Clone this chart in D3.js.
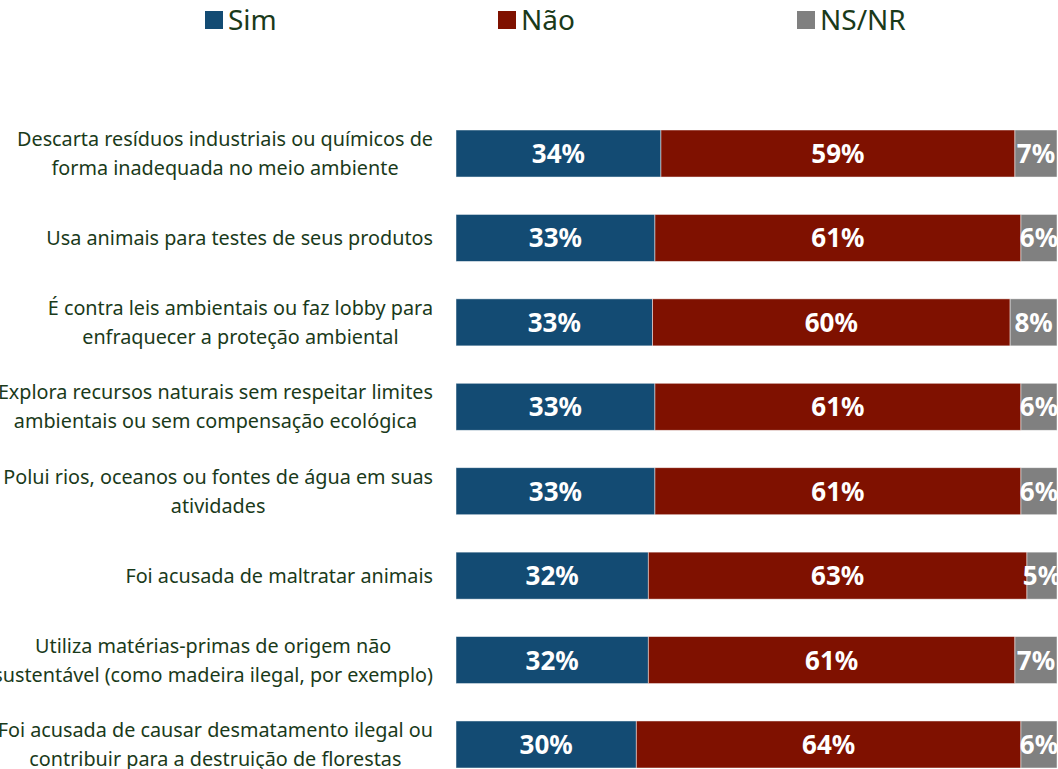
<!DOCTYPE html>
<html>
<head>
<meta charset="utf-8">
<script src="https://cdn.jsdelivr.net/npm/d3@7"></script>
<style>
  body { margin: 0; background: #fff; }
  svg { display: block; }
</style>
</head>
<body>
<div id="chart"></div>
<script>
// data (percent)
var categories = [
    ["Descarta resíduos industriais ou químicos de", "forma inadequada no meio ambiente"],
    ["Usa animais para testes de seus produtos"],
    ["É contra leis ambientais ou faz lobby para", "enfraquecer a proteção ambiental"],
    ["Explora recursos naturais sem respeitar limites", "ambientais ou sem compensação ecológica"],
    ["Polui rios, oceanos ou fontes de água em suas", "atividades"],
    ["Foi acusada de maltratar animais"],
    ["Utiliza matérias-primas de origem não", "sustentável (como madeira ilegal, por exemplo)"],
    ["Foi acusada de causar desmatamento ilegal ou", "contribuir para a destruição de florestas"]
];
var seriesNames = ["Sim", "Não", "NS/NR"];
var sim  = [34.1, 33.1, 32.7, 33.1, 33.1, 32.0, 32.0, 30.0];
var nao  = [58.9, 60.9, 59.5, 60.9, 60.9, 63.0, 61.0, 64.0];
var nsnr = [7.0, 6.0, 7.8, 6.0, 6.0, 5.0, 7.0, 6.0];

var colors = ["#134b73", "#7f1100", "#808080"];
var textColor = "#1a3a1a";

var width = 1058, height = 769;

var rows = categories.map(function (c, i) {
    return { idx: i, lines: c, Sim: sim[i], "Não": nao[i], "NS/NR": nsnr[i] };
});

var stack = d3.stack().keys(seriesNames)(rows);

var x = d3.scaleLinear().domain([0, 100]).range([456, 1057]);
var y = d3.scaleBand()
    .domain(d3.range(categories.length))
    .range([111.3, 786.7])
    .paddingInner(0.443)
    .paddingOuter(0.2215);

var svg = d3.select("#chart")
    .append("svg")
    .attr("width", width)
    .attr("height", height)
    .style("font-family", "'Noto Sans', 'Open Sans', sans-serif");

// bars
var layer = svg.selectAll("g.layer")
    .data(stack)
    .enter()
    .append("g")
    .attr("class", "layer")
    .attr("fill", (d, i) => colors[i]);

layer.selectAll("rect")
    .data(d => d)
    .enter()
    .append("rect")
    .attr("x", d => x(d[0]))
    .attr("y", (d, i) => y(i))
    .attr("width", d => x(d[1]) - x(d[0]))
    .attr("height", y.bandwidth())
    .attr("stroke", "#ffffff")
    .attr("stroke-width", 0.8)
    .attr("stroke-opacity", 0.6);

// value labels
layer.selectAll("text")
    .data(d => d)
    .enter()
    .append("text")
    .attr("x", d => (x(d[0]) + x(d[1])) / 2)
    .attr("y", (d, i) => y(i) + y.bandwidth() / 2 + 9.5)
    .attr("text-anchor", "middle")
    .attr("fill", "#ffffff")
    .style("font-weight", "bold")
    .style("font-size", "26px")
    .text(d => Math.round(d[1] - d[0]) + "%");

// category labels: block right-aligned at 433, lines centered within block
var labelRight = 433;
var lineH = 29;
categories.forEach(function (lines, i) {
    var g = svg.append("g");
    var cy = y(i) + y.bandwidth() / 2;
    var texts = lines.map(function (ln, j) {
        return g.append("text")
            .attr("y", cy + (j - (lines.length - 1) / 2) * lineH + 7)
            .attr("fill", textColor)
            .style("font-size", "19.8px")
            .text(ln);
    });
    var maxW = d3.max(texts, t => t.node().getComputedTextLength());
    texts.forEach(function (t) {
        t.attr("x", labelRight - maxW / 2).attr("text-anchor", "middle");
    });
});

// legend
var legendX = [205, 498, 797];
var legend = svg.selectAll("g.legend")
    .data(seriesNames)
    .enter()
    .append("g")
    .attr("class", "legend")
    .attr("transform", (d, i) => "translate(" + legendX[i] + ",0)");

legend.append("rect")
    .attr("x", 0)
    .attr("y", 11)
    .attr("width", 18)
    .attr("height", 18)
    .attr("fill", (d, i) => colors[i]);

legend.append("text")
    .attr("x", 23)
    .attr("y", 30)
    .attr("fill", textColor)
    .style("font-size", "28px")
    .text(d => d);
</script>
</body>
</html>
